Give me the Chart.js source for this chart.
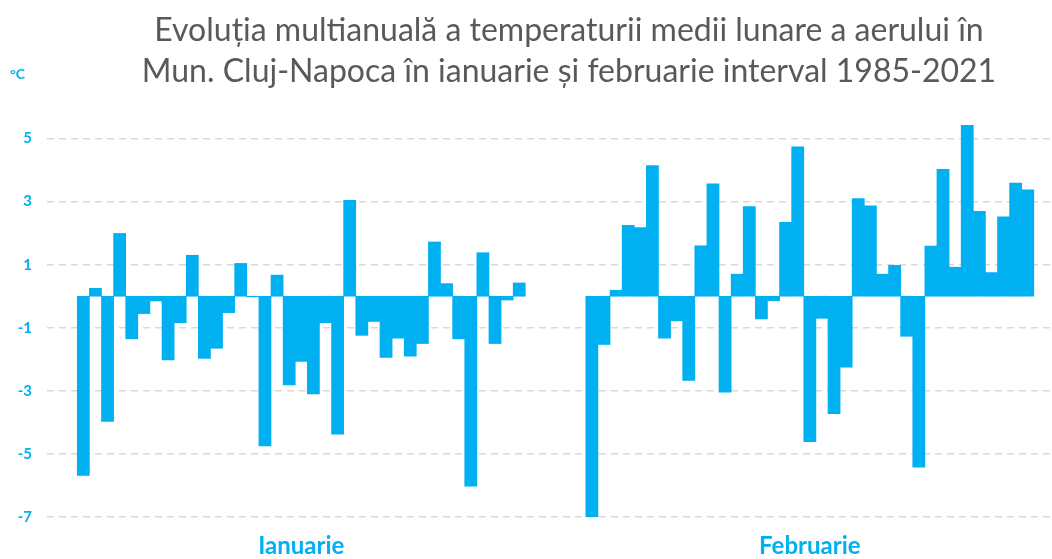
<!DOCTYPE html>
<html>
<head>
<meta charset="utf-8">
<script src="https://cdn.jsdelivr.net/npm/chart.js@4/dist/chart.umd.min.js"></script>
<style>
  html, body { margin: 0; padding: 0; background: #fff; }
  #wrap { position: relative; width: 1052px; height: 559px; overflow: hidden; }
  #title {
    position: absolute; left: 100px; width: 938px; top: 8px;
    text-align: center; font-family: Lato, sans-serif; font-size: 32px;
    line-height: 41px; color: #595959;
  }
  #unit {
    position: absolute; left: 10px; top: 65px;
    font-family: Lato, sans-serif; font-weight: bold; font-size: 14px; color: #00B0F0;
  }
  canvas { position: absolute; left: 0; top: 0; }
</style>
</head>
<body>
<div id="wrap">
  <canvas id="chart" width="1052" height="559"></canvas>
  <div id="title">Evoluția multianuală a temperaturii medii lunare a aerului în<br>Mun. Cluj-Napoca în ianuarie și februarie interval 1985-2021</div>
  <div id="unit">°C</div>
</div>
<script>
// Years 1985-2021
const years = [];
for (let y = 1985; y <= 2021; y++) years.push(String(y));

const months = ["Ianuarie", "Februarie"];

// Monthly mean temperature, January (°C)
const janTemps = [
  -5.68, 0.25, -3.97, 1.99, -1.35, -0.55, -0.15, -2.02, -0.84, 1.30,
  -1.97, -1.65, -0.52, 1.04, -0.02, -4.75, 0.67, -2.81, -2.07, -3.10,
  -0.84, -4.37, 3.04, -1.24, -0.80, -1.94, -1.33, -1.90, -1.50, 1.72,
  0.40, -1.35, -6.02, 1.38, -1.50, -0.12, 0.42
];

// Monthly mean temperature, February (°C)
const febTemps = [
  -7.00, -1.53, 0.19, 2.25, 2.18, 4.14, -1.33, -0.78, -2.67, 1.60,
  3.56, -3.04, 0.70, 2.84, -0.72, -0.14, 2.34, 4.74, -4.61, -0.70,
  -3.72, -2.25, 3.10, 2.87, 0.70, 0.98, -1.27, -5.42, 1.59, 4.02,
  0.92, 5.42, 2.69, 0.75, 2.52, 3.59, 3.37
];

const yTicks = [-7, -5, -3, -1, 1, 3, 5];

// empty slots: before January, between months, after February
const lead = 3, gap = 5, trail = 2;
const blanks = n => Array(n).fill(null);

const labels = [
  ...blanks(lead).map(() => ""),
  ...years,
  ...blanks(gap).map(() => ""),
  ...years,
  ...blanks(trail).map(() => "")
];
const values = [...blanks(lead), ...janTemps, ...blanks(gap), ...febTemps, ...blanks(trail)];

const janCenter = lead + Math.floor(years.length / 2);
const febCenter = lead + years.length + gap + Math.floor(years.length / 2);

const blue = "#00B0F0";

new Chart(document.getElementById("chart").getContext("2d"), {
  type: "bar",
  data: {
    labels: labels,
    datasets: [{
      data: values,
      backgroundColor: blue,
      borderWidth: 0,
      barPercentage: 1,
      categoryPercentage: 1,
    }],
  },
  options: {
    responsive: false,
    animation: false,
    layout: { padding: { left: 17, right: 0, top: 107, bottom: 0 } },
    plugins: { legend: { display: false }, tooltip: { enabled: false } },
    scales: {
      x: {
        offset: false,
        grid: { display: false },
        border: { display: false },
        afterFit: axis => { axis.height = 42; },
        ticks: {
          autoSkip: false,
          maxRotation: 0,
          padding: 0,
          color: blue,
          font: { family: "Lato", weight: "bold", size: 24, lineHeight: 1.75 },
          callback: (val, i) => i === janCenter ? months[0] : i === febCenter ? months[1] : "",
        },
      },
      y: {
        min: -7,
        max: 6,
        afterBuildTicks: axis => { axis.ticks = yTicks.map(v => ({ value: v })); },
        afterFit: axis => { axis.width = 30; },
        grid: {
          color: "#d9d9d9",
          lineWidth: 1.5,
          drawTicks: false,
        },
        border: { display: false, dash: [7, 5] },
        ticks: {
          padding: 15,
          color: blue,
          font: { family: "Lato", weight: "bold", size: 15 },
        },
      },
    },
  },
});
</script>
</body>
</html>
